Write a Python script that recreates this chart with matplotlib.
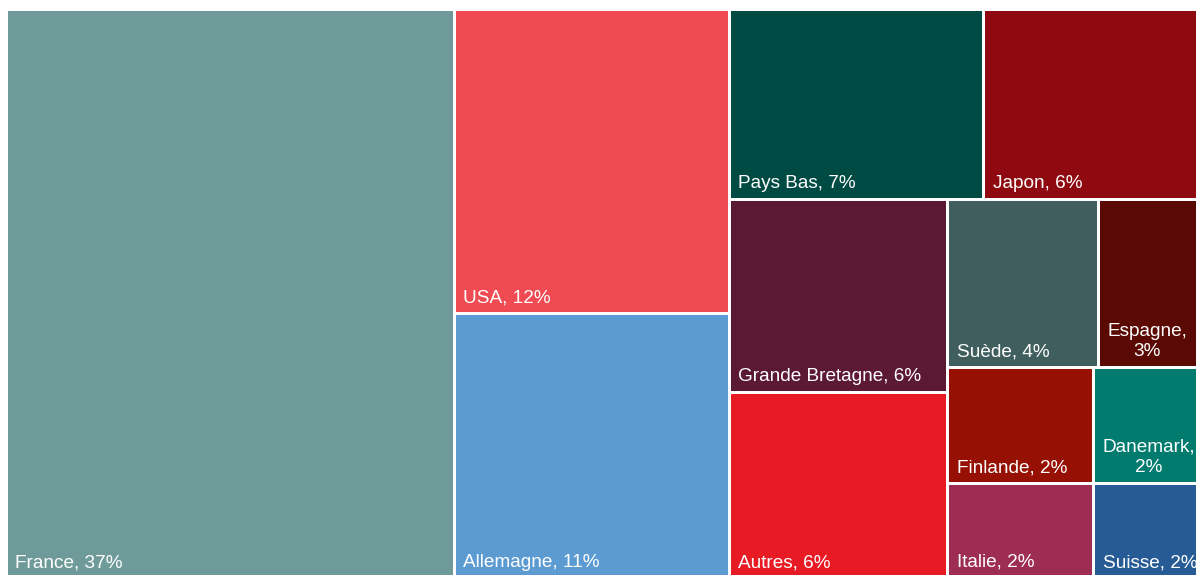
import matplotlib
matplotlib.use("Agg")
import matplotlib.pyplot as plt
from matplotlib.patches import Rectangle

# ---- data ----
countries = ["France", "USA", "Allemagne", "Pays Bas", "Japon", "Grande Bretagne",
             "Autres", "Suède", "Espagne", "Finlande", "Italie", "Danemark", "Suisse"]
shares = [37.38, 12.29, 10.66, 7.12, 6.18, 6.15, 5.97, 3.70, 2.62, 2.47, 2.03, 1.88, 1.54]
colors = ["#6E9B9A", "#F04A52", "#5B9BD1", "#004A44", "#8F0A10", "#5C1933",
          "#E81A24", "#405E5E", "#5A0A03", "#961003", "#9E2D54", "#007B6E", "#265B96"]

# ---- layout (pixel units) ----
FIG_W, FIG_H = 1196, 575
DPI = 100
X0, Y0 = 5.5, 8.5          # top-left of treemap area in figure pixels
W, H = 1198.5, 569.5       # size of treemap area (extends slightly past canvas)


def worst(row, side):
    s = sum(row)
    return max(side * side * max(row) / (s * s), (s * s) / (side * side * min(row)))


def squarify(areas, x, y, w, h):
    rects = []
    i = 0
    n = len(areas)
    while i < n:
        side = min(w, h)
        row = [areas[i]]
        j = i + 1
        while j < n and worst(row + [areas[j]], side) <= worst(row, side):
            row.append(areas[j])
            j += 1
        s = sum(row)
        if w >= h:
            cw = s / h
            cy = y
            for a in row:
                ch = a / cw
                rects.append((x, cy, cw, ch))
                cy += ch
            x += cw
            w -= cw
        else:
            ch = s / w
            cx = x
            for a in row:
                cw = a / ch
                rects.append((cx, y, cw, ch))
                cx += cw
            y += ch
            h -= ch
        i = j
    return rects


total = sum(shares)
areas = [v / total * W * H for v in shares]
rects = squarify(areas, 0.0, 0.0, W, H)

fig = plt.figure(figsize=(FIG_W / DPI, FIG_H / DPI), dpi=DPI)
ax = fig.add_axes([X0 / FIG_W, 1 - (Y0 + H) / FIG_H, W / FIG_W, H / FIG_H])
ax.set_xlim(0, W)
ax.set_ylim(H, 0)
ax.axis("off")

border_pt = 3 * 72 / DPI
font = dict(family=["Liberation Sans", "DejaVu Sans"], size=13.7, color="white")
PAD = 9.5
BASE = 11.0

texts = []
for (x, y, w, h), name, val, col in zip(rects, countries, shares, colors):
    ax.add_patch(Rectangle((x, y), w, h, facecolor=col, edgecolor="white",
                           linewidth=border_pt, clip_on=False))
    label = f"{name}, {round(val)}%"
    t = ax.text(x + PAD, y + h - BASE, label, ha="left", va="baseline",
                multialignment="center", linespacing=1.3, **font)
    texts.append((t, name, val, w))

fig.canvas.draw()
renderer = fig.canvas.get_renderer()
for t, name, val, w in texts:
    bb = t.get_window_extent(renderer)
    if bb.width > w - PAD - 4:
        t.set_text(f"{name},\n{round(val)}%")

fig.savefig("out.png", dpi=DPI, facecolor="white")
